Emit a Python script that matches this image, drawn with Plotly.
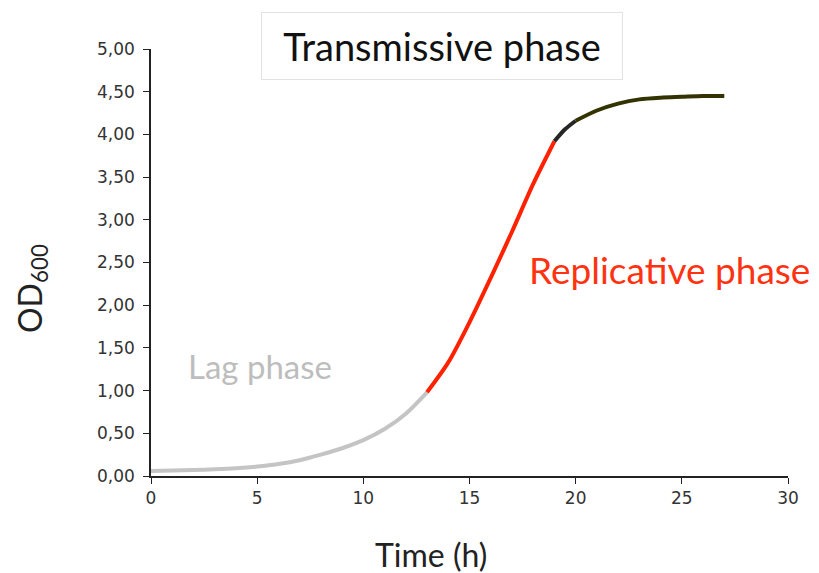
import plotly.graph_objects as go

# growth curve, split by phase
lag_t = [0, 1, 2, 3, 4, 5, 6, 7, 8, 9, 10, 11, 12, 13]
lag_od = [0.06, 0.065, 0.07, 0.078, 0.09, 0.11, 0.14, 0.185, 0.25, 0.325, 0.42, 0.55, 0.73, 0.98]
rep_t = [13, 14, 15, 16, 17, 18, 19]
rep_od = [0.98, 1.33, 1.80, 2.32, 2.86, 3.42, 3.92]
tr_t = [19, 19.5, 20]
tr_od = [3.92, 4.06, 4.16]
stat_t = [20, 21, 22, 23, 24, 25, 26, 27]
stat_od = [4.16, 4.28, 4.36, 4.41, 4.43, 4.44, 4.45, 4.45]

x_ticks = [0, 5, 10, 15, 20, 25, 30]
y_ticks = [0, 0.5, 1, 1.5, 2, 2.5, 3, 3.5, 4, 4.5, 5]

fig = go.Figure()
for t, od, c in [(lag_t, lag_od, "#c4c4c4"),
                 (rep_t, rep_od, "#ff2200"),
                 (tr_t, tr_od, "#262626"),
                 (stat_t, stat_od, "#333300")]:
    fig.add_trace(go.Scatter(x=t, y=od, mode="lines",
                             line=dict(color=c, width=4, shape="spline", smoothing=0.8),
                             showlegend=False, hoverinfo="x+y"))

# page body adds ~8px offset, so margins are pulled in by 8
fig.update_layout(
    width=819, height=573,
    margin=dict(l=143, r=39, t=41, b=105),
    paper_bgcolor="white", plot_bgcolor="white",
    separators=", ",
    font=dict(family="DejaVu Sans", size=17, color="#333333"),
    xaxis=dict(range=[0, 30], tickvals=x_ticks, showgrid=False, zeroline=False,
               showline=True, linecolor="#222222", linewidth=1.5, automargin=False,
               ticks="outside", ticklen=6, tickcolor="#222222"),
    yaxis=dict(range=[0, 5], tickvals=y_ticks, tickformat=".2f", showgrid=False,
               zeroline=False, showline=True, linecolor="#222222", linewidth=1.5,
               automargin=False, ticks="outside", ticklen=6, tickcolor="#222222",
               ticklabelstandoff=5),
)

fig.add_annotation(x=-0.187, y=0.44, xref="paper", yref="paper", showarrow=False,
                   text="OD<sub>600</sub>", textangle=-90,
                   font=dict(family="Lato", size=32, color="#222222"),
                   xanchor="center", yanchor="middle")
fig.add_annotation(x=0.44, y=-0.185, xref="paper", yref="paper", showarrow=False,
                   text="Time (h)", font=dict(family="Lato", size=32, color="#222222"),
                   xanchor="center", yanchor="middle")
fig.add_annotation(x=0.457, y=1.007, xref="paper", yref="paper", showarrow=False,
                   text="Transmissive phase", font=dict(family="Lato", size=38, color="#111111"),
                   bordercolor="#e2e2e2", borderwidth=1, bgcolor="white",
                   width=358, height=64, xanchor="center", yanchor="middle")
fig.add_annotation(x=24.4, y=2.42, showarrow=False, text="Replicative phase",
                   font=dict(family="Lato", size=37, color="#ff3311"))
fig.add_annotation(x=5.15, y=1.29, showarrow=False, text="Lag phase",
                   font=dict(family="Lato", size=33, color="#bdbdbd"))

fig.write_html("out.html")
